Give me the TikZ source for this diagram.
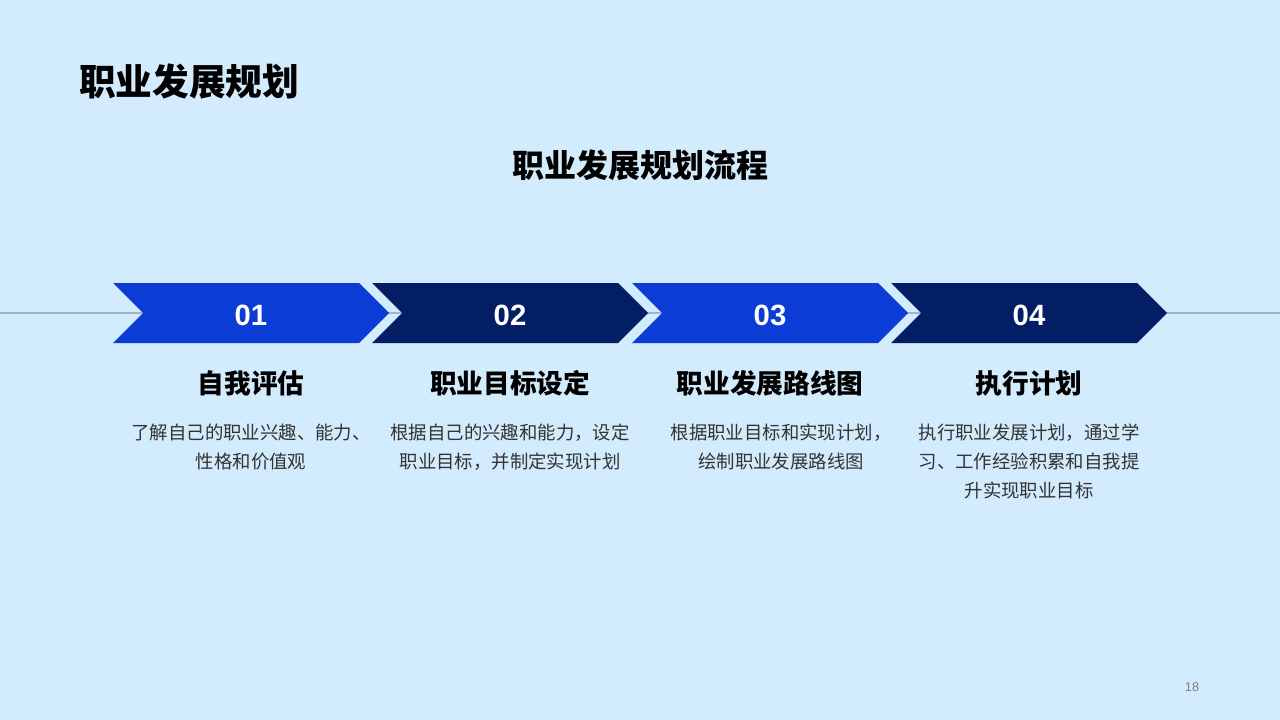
\documentclass[tikz,border=0pt]{standalone}
\usepackage{fontspec}
\setmainfont{Noto Sans CJK SC}
\newfontfamily\numfont{Liberation Sans}
\usetikzlibrary{positioning}

\definecolor{bgblue}{HTML}{D2EBFD}
\definecolor{stepblue}{HTML}{0B3DD6}
\definecolor{stepnavy}{HTML}{041E66}
\definecolor{axisgray}{HTML}{A0B4C8}
\definecolor{descgray}{HTML}{333333}

\begin{document}
\begin{tikzpicture}[
  x=0.75pt, y=-0.75pt,
  axis/.style={draw=axisgray, line width=1pt},
  num/.style={font=\numfont\bfseries\fontsize{22}{26}\selectfont, text=white, inner sep=0pt},
  head/.style={font=\bfseries\fontsize{20}{24}\selectfont, inner sep=0pt},
  desc/.style={font=\fontsize{13.8}{21.6}\selectfont, text=descgray, align=center, inner sep=0pt, anchor=north}
]
\newcommand{\chevron}[2]{%
  \fill[#2] (#1,283) -- ++(246,0) -- ++(30,30) -- ++(-30,30) -- ++(-246,0) -- ++(30,-30) -- cycle;}

% background
\fill[bgblue] (0,0) rectangle (1280,720);
\useasboundingbox (0,0) rectangle (1280,720);

% titles
\node[font=\bfseries\fontsize{27.5}{32}\selectfont, anchor=west, inner sep=0pt] (title) at (79,82) {职业发展规划};
\node[font=\bfseries\fontsize{24}{28}\selectfont, inner sep=0pt] (subtitle) at (640,165) {职业发展规划流程};

% axis line behind the steps
\coordinate (axisL) at (0,313);
\coordinate (axisR) at (1280,313);
\draw[axis] (axisL) -- (axisR);

% steps
\chevron{113}{stepblue}
\chevron{372}{stepnavy}
\chevron{632}{stepblue}
\chevron{891}{stepnavy}
\node[num] (n1) at (251,315) {01};
\node[num] (n2) at (510,315) {02};
\node[num] (n3) at (770,315) {03};
\node[num] (n4) at (1029,315) {04};

% headings
\node[head] (h1) at (251,383) {自我评估};
\node[head] (h2) at (510,383) {职业目标设定};
\node[head] (h3) at (770,383) {职业发展路线图};
\node[head] (h4) at (1029,383) {执行计划};

% descriptions
\node[desc] (d1) at (251,424) {了解自己的职业兴趣、能力、\\性格和价值观};
\node[desc] (d2) at (510,424) {根据自己的兴趣和能力，设定\\职业目标，并制定实现计划};
\node[desc] (d3) at (781,424) {根据职业目标和实现计划，\\绘制职业发展路线图};
\node[desc] (d4) at (1029,424) {执行职业发展计划，通过学\\习、工作经验积累和自我提\\升实现职业目标};

% page number
\node[font=\numfont\fontsize{9.5}{11}\selectfont, text=gray] (page) at (1192,687) {18};
\end{tikzpicture}
\end{document}
